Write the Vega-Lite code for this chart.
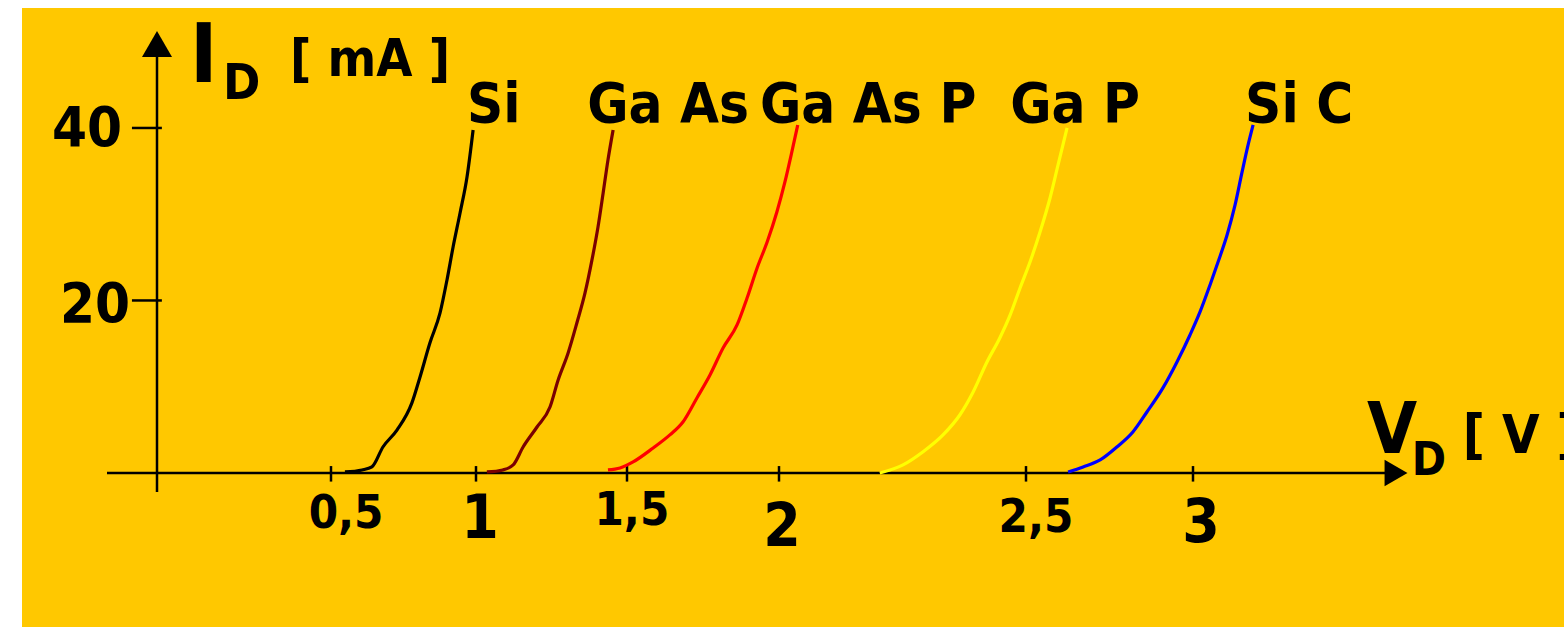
{
  "$schema": "https://vega.github.io/schema/vega-lite/v6.json",
  "width": 1542,
  "height": 619,
  "autosize": {"type": "none"},
  "padding": {"left": 22, "top": 8, "right": 0, "bottom": 0},
  "background": "white",
  "view": {"fill": "#FFC800", "stroke": null},
  "config": {"text": {"font": "DejaVu Sans Condensed, DejaVu Sans, sans-serif", "fontWeight": "bold", "color": "black"}},
  "datasets": {
    "curves": [
      {"series": "Si", "v": 0.548, "i": 0.12}, {"series": "Si", "v": 0.607, "i": 0.35}, {"series": "Si", "v": 0.641, "i": 0.70}, {"series": "Si", "v": 0.679, "i": 3.01}, {"series": "Si", "v": 0.728, "i": 4.99}, {"series": "Si", "v": 0.779, "i": 8.12}, {"series": "Si", "v": 0.807, "i": 11.13}, {"series": "Si", "v": 0.841, "i": 15.07}, {"series": "Si", "v": 0.876, "i": 18.55}, {"series": "Si", "v": 0.900, "i": 22.38}, {"series": "Si", "v": 0.921, "i": 26.20}, {"series": "Si", "v": 0.945, "i": 30.14}, {"series": "Si", "v": 0.969, "i": 34.32}, {"series": "Si", "v": 0.990, "i": 39.77},
      {"series": "GaAs", "v": 1.036, "i": 0.12}, {"series": "GaAs", "v": 1.089, "i": 0.35}, {"series": "GaAs", "v": 1.123, "i": 0.93}, {"series": "GaAs", "v": 1.156, "i": 3.01}, {"series": "GaAs", "v": 1.202, "i": 5.33}, {"series": "GaAs", "v": 1.245, "i": 7.65}, {"series": "GaAs", "v": 1.272, "i": 10.78}, {"series": "GaAs", "v": 1.305, "i": 13.91}, {"series": "GaAs", "v": 1.334, "i": 17.39}, {"series": "GaAs", "v": 1.361, "i": 20.87}, {"series": "GaAs", "v": 1.384, "i": 24.70}, {"series": "GaAs", "v": 1.404, "i": 28.52}, {"series": "GaAs", "v": 1.421, "i": 32.46}, {"series": "GaAs", "v": 1.437, "i": 36.29}, {"series": "GaAs", "v": 1.454, "i": 39.77},
      {"series": "GaAsP", "v": 1.437, "i": 0.35}, {"series": "GaAsP", "v": 1.477, "i": 0.58}, {"series": "GaAsP", "v": 1.520, "i": 1.28}, {"series": "GaAsP", "v": 1.586, "i": 2.90}, {"series": "GaAsP", "v": 1.641, "i": 4.41}, {"series": "GaAsP", "v": 1.684, "i": 5.91}, {"series": "GaAsP", "v": 1.730, "i": 8.70}, {"series": "GaAsP", "v": 1.773, "i": 11.36}, {"series": "GaAsP", "v": 1.816, "i": 14.49}, {"series": "GaAsP", "v": 1.862, "i": 17.16}, {"series": "GaAsP", "v": 1.895, "i": 20.29}, {"series": "GaAsP", "v": 1.928, "i": 23.77}, {"series": "GaAsP", "v": 1.961, "i": 26.78}, {"series": "GaAsP", "v": 1.993, "i": 30.26}, {"series": "GaAsP", "v": 2.012, "i": 33.74}, {"series": "GaAsP", "v": 2.026, "i": 37.22}, {"series": "GaAsP", "v": 2.038, "i": 40.35},
      {"series": "GaP", "v": 2.204, "i": 0.0}, {"series": "GaP", "v": 2.251, "i": 0.93}, {"series": "GaP", "v": 2.291, "i": 2.43}, {"series": "GaP", "v": 2.332, "i": 4.41}, {"series": "GaP", "v": 2.366, "i": 6.72}, {"series": "GaP", "v": 2.393, "i": 9.39}, {"series": "GaP", "v": 2.421, "i": 12.87}, {"series": "GaP", "v": 2.447, "i": 15.65}, {"series": "GaP", "v": 2.468, "i": 18.32}, {"series": "GaP", "v": 2.488, "i": 21.45}, {"series": "GaP", "v": 2.512, "i": 24.46}, {"series": "GaP", "v": 2.542, "i": 27.94}, {"series": "GaP", "v": 2.572, "i": 31.88}, {"series": "GaP", "v": 2.596, "i": 35.71}, {"series": "GaP", "v": 2.623, "i": 40.0},
      {"series": "SiC", "v": 2.626, "i": 0.12}, {"series": "SiC", "v": 2.671, "i": 0.70}, {"series": "SiC", "v": 2.722, "i": 1.51}, {"series": "SiC", "v": 2.772, "i": 3.01}, {"series": "SiC", "v": 2.820, "i": 4.75}, {"series": "SiC", "v": 2.862, "i": 7.07}, {"series": "SiC", "v": 2.910, "i": 9.86}, {"series": "SiC", "v": 2.952, "i": 12.87}, {"series": "SiC", "v": 2.991, "i": 16.0}, {"series": "SiC", "v": 3.021, "i": 18.67}, {"series": "SiC", "v": 3.051, "i": 21.80}, {"series": "SiC", "v": 3.075, "i": 24.46}, {"series": "SiC", "v": 3.102, "i": 27.59}, {"series": "SiC", "v": 3.126, "i": 31.07}, {"series": "SiC", "v": 3.147, "i": 34.90}, {"series": "SiC", "v": 3.165, "i": 38.03}, {"series": "SiC", "v": 3.180, "i": 40.35}
    ],
    "names": [
      {"name": "Si", "v": 0.969, "i": 40.7},
      {"name": "Ga As", "v": 1.368, "i": 40.7},
      {"name": "Ga As P", "v": 1.9375, "i": 40.7},
      {"name": "Ga P", "v": 2.468, "i": 40.7},
      {"name": "Si C", "v": 3.156, "i": 40.7}
    ],
    "xticks": [{"t": 0.5}, {"t": 1}, {"t": 1.5}, {"t": 2}, {"t": 2.5}, {"t": 3}],
    "yticks": [{"t": 20}, {"t": 40}],
    "xlabels": [
      {"label": "0,5", "v": 0.552, "i": -6.38},
      {"label": "1", "v": 1.013, "i": -7.54},
      {"label": "1,5", "v": 1.516, "i": -6.03},
      {"label": "2", "v": 2.006, "i": -8.46},
      {"label": "2,5", "v": 2.53, "i": -6.84},
      {"label": "3", "v": 3.024, "i": -8.0}
    ],
    "ylabels": [
      {"label": "40", "v": -0.201, "i": 37.9},
      {"label": "20", "v": -0.178, "i": 17.5}
    ]
  },
  "data": {"values": [{}]},
  "layer": [
    {
      "mark": {"type": "rule", "stroke": "black", "strokeWidth": 2.5},
      "encoding": {
        "x": {"datum": -0.1437, "type": "quantitative", "scale": {"type": "linear", "domain": [-0.388, 0, 0.5, 1, 1.5, 2, 2.5, 3, 4.111], "range": [0, 135, 309, 454, 605, 757, 1004, 1171, 1542], "nice": false, "zero": false}, "axis": null},
        "x2": {"datum": 3.575},
        "y": {"datum": 0, "type": "quantitative", "scale": {"domain": [-17.86, 53.91], "nice": false, "zero": false}, "axis": null}
      }
    },
    {
      "mark": {"type": "rule", "stroke": "black", "strokeWidth": 2.5},
      "encoding": {
        "x": {"datum": 0, "type": "quantitative"},
        "y": {"datum": -2.2, "type": "quantitative"},
        "y2": {"datum": 48.5}
      }
    },
    {
      "mark": {"type": "point", "shape": "triangle-right", "filled": true, "color": "black", "size": 700, "opacity": 1},
      "encoding": {"x": {"datum": 3.608, "type": "quantitative"}, "y": {"datum": 0, "type": "quantitative"}}
    },
    {
      "mark": {"type": "point", "shape": "triangle-up", "filled": true, "color": "black", "size": 900, "opacity": 1},
      "encoding": {"x": {"datum": 0, "type": "quantitative"}, "y": {"datum": 49.74, "type": "quantitative"}}
    },
    {
      "data": {"name": "xticks"},
      "mark": {"type": "rule", "stroke": "black", "strokeWidth": 2.5},
      "encoding": {
        "x": {"field": "t", "type": "quantitative"},
        "y": {"datum": 0.8, "type": "quantitative"},
        "y2": {"datum": -1.0}
      }
    },
    {
      "data": {"name": "yticks"},
      "mark": {"type": "rule", "stroke": "black", "strokeWidth": 2.5},
      "encoding": {
        "y": {"field": "t", "type": "quantitative"},
        "x": {"datum": -0.072, "type": "quantitative"},
        "x2": {"datum": 0.014}
      }
    },
    {
      "data": {"name": "curves"},
      "mark": {"type": "line", "strokeWidth": 3.2, "interpolate": "monotone"},
      "encoding": {
        "x": {"field": "v", "type": "quantitative"},
        "y": {"field": "i", "type": "quantitative"},
        "color": {"field": "series", "type": "nominal", "scale": {"domain": ["Si", "GaAs", "GaAsP", "GaP", "SiC"], "range": ["#000000", "#7A0000", "#FF0000", "#FFFF00", "#0000FF"]}, "legend": null}
      }
    },
    {
      "data": {"name": "names"},
      "mark": {"type": "text", "fontSize": 56, "align": "left", "baseline": "alphabetic"},
      "encoding": {
        "x": {"field": "v", "type": "quantitative"},
        "y": {"field": "i", "type": "quantitative"},
        "text": {"field": "name"}
      }
    },
    {
      "data": {"name": "xlabels"},
      "transform": [{"filter": "length(datum.label) > 1"}],
      "mark": {"type": "text", "fontSize": 47, "align": "center", "baseline": "alphabetic"},
      "encoding": {
        "x": {"field": "v", "type": "quantitative"},
        "y": {"field": "i", "type": "quantitative"},
        "text": {"field": "label"}
      }
    },
    {
      "data": {"name": "xlabels"},
      "transform": [{"filter": "length(datum.label) == 1"}],
      "mark": {"type": "text", "fontSize": 60, "align": "center", "baseline": "alphabetic"},
      "encoding": {
        "x": {"field": "v", "type": "quantitative"},
        "y": {"field": "i", "type": "quantitative"},
        "text": {"field": "label"}
      }
    },
    {
      "data": {"name": "ylabels"},
      "mark": {"type": "text", "fontSize": 56, "align": "center", "baseline": "alphabetic"},
      "encoding": {
        "x": {"field": "v", "type": "quantitative"},
        "y": {"field": "i", "type": "quantitative"},
        "text": {"field": "label"}
      }
    },
    {
      "mark": {"type": "text", "fontSize": 82, "align": "left", "baseline": "alphabetic", "text": "I"},
      "encoding": {"x": {"datum": 0.0948, "type": "quantitative"}, "y": {"datum": 45.33, "type": "quantitative"}}
    },
    {
      "mark": {"type": "text", "fontSize": 50, "align": "left", "baseline": "alphabetic", "text": "D"},
      "encoding": {"x": {"datum": 0.19, "type": "quantitative"}, "y": {"datum": 43.36, "type": "quantitative"}}
    },
    {
      "mark": {"type": "text", "fontSize": 52, "align": "left", "baseline": "alphabetic", "text": "[ mA ]"},
      "encoding": {"x": {"datum": 0.382, "type": "quantitative"}, "y": {"datum": 46.03, "type": "quantitative"}}
    },
    {
      "mark": {"type": "text", "fontSize": 72, "align": "left", "baseline": "alphabetic", "text": "V"},
      "encoding": {"x": {"datum": 3.521, "type": "quantitative"}, "y": {"datum": 2.32, "type": "quantitative"}}
    },
    {
      "mark": {"type": "text", "fontSize": 46, "align": "left", "baseline": "alphabetic", "text": "D"},
      "encoding": {"x": {"datum": 3.655, "type": "quantitative"}, "y": {"datum": -0.23, "type": "quantitative"}}
    },
    {
      "mark": {"type": "text", "fontSize": 54, "align": "left", "baseline": "alphabetic", "text": "[ V ]"},
      "encoding": {"x": {"datum": 3.808, "type": "quantitative"}, "y": {"datum": 2.32, "type": "quantitative"}}
    }
  ]
}
